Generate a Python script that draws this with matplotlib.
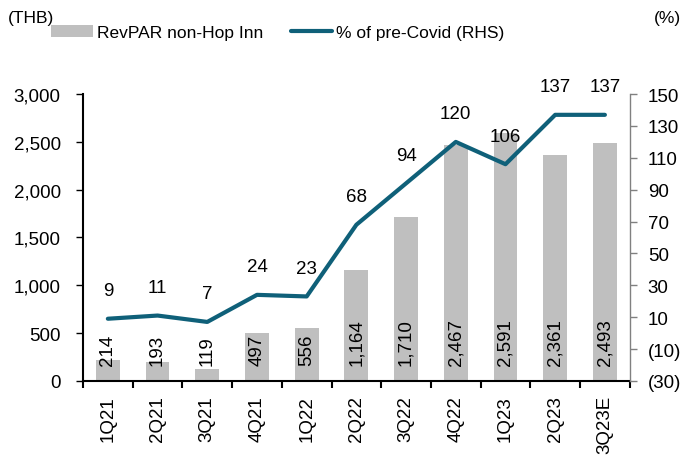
import matplotlib
matplotlib.use("Agg")
import matplotlib.pyplot as plt
import numpy as np
from matplotlib.ticker import FuncFormatter

plt.rcParams['font.family'] = ['Liberation Sans', 'DejaVu Sans']
plt.rcParams['font.size'] = 13

quarters = ['1Q21', '2Q21', '3Q21', '4Q21', '1Q22', '2Q22', '3Q22', '4Q22', '1Q23', '2Q23', '3Q23E']
revpar = [214, 193, 119, 497, 556, 1164, 1710, 2467, 2591, 2361, 2493]
pct_pre_covid = [9, 11, 7, 24, 23, 68, 94, 120, 106, 137, 137]

bar_color = '#BFBFBF'
line_color = '#0F6079'

fig = plt.figure(figsize=(6.86, 4.64), dpi=100)
ax = fig.add_axes([0.121, 0.177, 0.797, 0.618])
ax2 = ax.twinx()

x = np.arange(len(quarters))
ax.bar(x, revpar, width=0.48, color=bar_color, label='RevPAR non-Hop Inn', zorder=1)
for xi, v in zip(x, revpar):
    ax.text(xi, 170, f'{v:,}', rotation=90, ha='center', va='bottom', fontsize=13.5)

ax2.plot(x, pct_pre_covid, color=line_color, lw=3, label='% of pre-Covid (RHS)',
         solid_capstyle='round')
for xi, v in zip(x, pct_pre_covid):
    ax2.annotate(f'{v}', (xi, v), xytext=(0, 14), textcoords='offset points',
                 ha='center', va='bottom', fontsize=13.5)

ax.set_xlim(-0.5, len(quarters) - 0.5)
ax.set_ylim(0, 3000)
ax.set_yticks(np.arange(0, 3001, 500))
ax.yaxis.set_major_formatter(FuncFormatter(lambda v, p: f'{int(v):,}'))
ax2.set_ylim(-30, 150)
ax2.set_yticks(np.arange(-30, 151, 20))
ax2.yaxis.set_major_formatter(FuncFormatter(lambda v, p: f'({abs(int(v))})' if v < 0 else f'{int(v)}'))

ax.set_xticks(x)
ax.set_xticklabels(quarters, rotation=90, fontsize=13.5)
ax.set_xticks(np.arange(-0.5, len(quarters), 1), minor=True)
ax.tick_params(axis='x', which='major', length=0, pad=10)
ax.tick_params(axis='x', which='minor', length=5, width=1.5, direction='out')
ax.tick_params(axis='y', length=5, width=1, direction='out', pad=11, labelsize=13.5)
ax2.tick_params(axis='y', length=5, width=1, direction='out', color='#808080', pad=8,
                labelsize=13.5)

for a in (ax, ax2):
    a.spines['top'].set_visible(False)
ax.spines['right'].set_visible(False)
ax2.spines['left'].set_visible(False)
ax2.spines['bottom'].set_visible(False)
ax.spines['left'].set_linewidth(1.5)
ax.spines['bottom'].set_linewidth(1.5)
ax2.spines['right'].set_color('#808080')
ax2.spines['right'].set_linewidth(1)

h1, l1 = ax.get_legend_handles_labels()
h2, l2 = ax2.get_legend_handles_labels()
fig.legend(h1 + h2, l1 + l2, loc='center left', bbox_to_anchor=(0.075, 0.927), ncol=2,
           frameon=False, handlelength=2.4, handletextpad=0.2, columnspacing=1.6,
           fontsize=12.5, borderaxespad=0, borderpad=0)
fig.text(0.012, 0.96, '(THB)', ha='left', va='center', fontsize=12.5)
fig.text(0.993, 0.96, '(%)', ha='right', va='center', fontsize=12.5)

fig.savefig('out.png', dpi=100)
